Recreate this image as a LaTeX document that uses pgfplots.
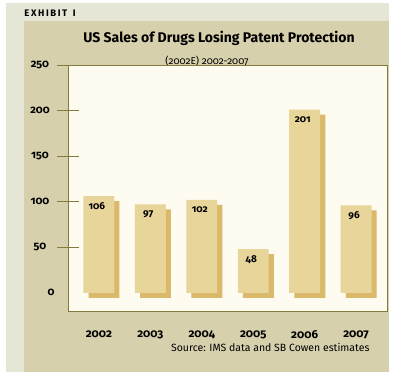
\documentclass[border=0pt]{standalone}
\usepackage{fontspec}
\setmainfont{Fira Sans}[Numbers=OldStyle]
\usepackage{pgfplots}
\pgfplotsset{compat=1.18}
\definecolor{outerbg}{HTML}{E6E6D6}
\definecolor{khaki}{HTML}{D7D0AD}
\definecolor{cream}{HTML}{FEFBF0}
\definecolor{olive}{HTML}{857A3E}
\definecolor{barc}{HTML}{E8D59A}
\definecolor{shadowc}{HTML}{DBB96A}
\begin{document}
\begin{tikzpicture}
\fill[white] (0pt,0pt) rectangle (394pt,376pt);
\fill[outerbg] (6pt,4pt) rectangle (389pt,373pt);
\fill[khaki] (24pt,4pt) rectangle (389pt,355pt);
\node[font=\bfseries\fontsize{9.5}{11}\selectfont] at (50pt,363pt) {E\,X\,H\,I\,B\,I\,T\,\, I};
\node[font=\bfseries\fontsize{14}{16}\selectfont] at (219pt,338pt) {US Sales of Drugs Losing Patent Protection};
\node[font=\fontsize{10}{12}\selectfont] at (207pt,315pt) {(2002E) 2002-2007};
\begin{axis}[
  at={(68pt,65pt)}, anchor=south west,
  width=319pt, height=246pt, scale only axis,
  xmin=-0.6, xmax=5.6, ymin=-20, ymax=250,
  axis background/.style={fill=cream},
  axis line style={olive, line width=0.8pt},
  xtick={0,1,2,3,4,5},
  xticklabels={2002,2003,2004,2005,2006,2007},
  x tick style={draw=none},
  xticklabel style={font=\bfseries\fontsize{11.5}{13}\selectfont, yshift=-5pt},
  ytick={50,100,150,200,250},
  ytick pos=left,
  extra y ticks={0},
  extra y tick style={major tick length=0pt},
  y tick style={olive, line width=0.8pt},
  tick align=center, major tick length=22pt,
  yticklabel style={font=\bfseries\fontsize{11}{13}\selectfont, anchor=center, xshift=-17pt},
  /pgf/number format/assume math mode=true,
  clip=false,
]
\addplot[ybar, bar width=0.6, bar shift=0.1, fill=shadowc, draw=none, yshift=-5pt]
  coordinates {(0,106) (1,97) (2,102) (3,48) (4,201) (5,96)};
\addplot[ybar, bar width=0.6, bar shift=0, fill=barc, draw=none,
  nodes near coords,
  every node near coord/.append style={anchor=north, yshift=-3pt, xshift=-2pt,
    font=\bfseries\fontsize{10}{12}\selectfont, text=black}]
  coordinates {(0,106) (1,97) (2,102) (3,48) (4,201) (5,96)};
\end{axis}
\node[anchor=east, font=\fontsize{10.5}{12}\selectfont] at (373pt,29pt) {Source: IMS data and SB Cowen estimates};
\end{tikzpicture}
\end{document}
